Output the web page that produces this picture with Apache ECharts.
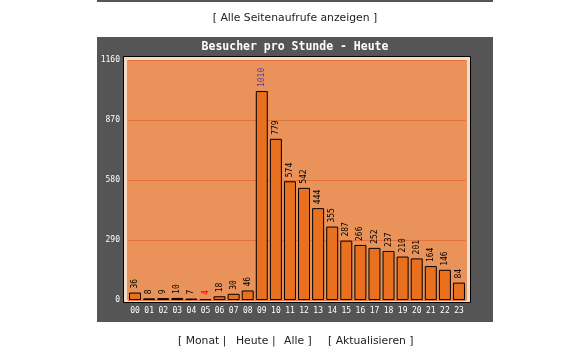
<!DOCTYPE html>
<html>
<head>
<meta charset="utf-8">
<script src="https://cdn.jsdelivr.net/npm/echarts@6/dist/echarts.min.js"></script>
<style>
  html, body { margin: 0; padding: 0; background: #fff; }
  #main { width: 580px; height: 352px; }
</style>
</head>
<body>
<div id="main"></div>
<script>
const hours = ["00", "01", "02", "03", "04", "05", "06", "07", "08", "09", "10", "11",
  "12", "13", "14", "15", "16", "17", "18", "19", "20", "21", "22", "23"];
const visitors = [36, 8, 9, 10, 7, 4, 18, 30, 46, 1010, 779, 574,
  542, 444, 355, 287, 266, 252, 237, 210, 201, 164, 146, 84];
const yTicks = { min: 0, max: 1160, interval: 290 };

const maxVal = Math.max(...visitors);
const minVal = Math.min(...visitors);

const barData = visitors.map((v) => {
  if (v === maxVal) return { value: v, label: { color: "#4b3aa8" } };
  if (v === minVal) return { value: v, label: { color: "#ff0000" } };
  return v;
});

const mono = "DejaVu Sans Mono";
const sans = "10.8px 'DejaVu Sans'";

const option = {
  backgroundColor: "#ffffff",
  animation: false,
  graphic: [
    { type: "rect", z: -10, shape: { x: 97, y: 0, width: 396, height: 2 }, style: { fill: "#555555" } },
    { type: "rect", z: -10, shape: { x: 97, y: 37, width: 396, height: 285 }, style: { fill: "#555555" } },
    { type: "rect", z: -9, shape: { x: 123.5, y: 56.5, width: 347, height: 246 },
      style: { fill: "#f6dcc6", stroke: "#000000", lineWidth: 1 } },
    { type: "rect", z: -8, shape: { x: 127, y: 60, width: 340, height: 240 }, style: { fill: "#e9935a" } },
    { type: "text", style: { text: "Besucher pro Stunde - Heute", x: 295, y: 47, textAlign: "center",
      textVerticalAlign: "middle", fill: "#ffffff", font: "bold 11.5px " + mono } },
    { type: "text", style: { text: "[ Alle Seitenaufrufe anzeigen ]", x: 295, y: 18, textAlign: "center",
      textVerticalAlign: "middle", fill: "#222222", font: sans } },
    { type: "text", style: { text: "[ Monat |", x: 178, y: 341, textVerticalAlign: "middle", fill: "#222222", font: sans } },
    { type: "text", style: { text: "Heute |", x: 236, y: 341, textVerticalAlign: "middle", fill: "#222222", font: sans } },
    { type: "text", style: { text: "Alle ]", x: 284, y: 341, textVerticalAlign: "middle", fill: "#222222", font: sans } },
    { type: "text", style: { text: "[ Aktualisieren ]", x: 328, y: 341, textVerticalAlign: "middle", fill: "#222222", font: sans } }
  ],
  grid: { left: 128, right: 114, top: 60, bottom: 52 },
  xAxis: {
    type: "category",
    data: hours,
    axisLine: { show: false },
    axisTick: { show: false },
    axisLabel: { color: "#ffffff", fontFamily: mono, fontSize: 8, margin: 7, interval: 0 }
  },
  yAxis: {
    type: "value",
    min: yTicks.min,
    max: yTicks.max,
    interval: yTicks.interval,
    axisLine: { show: false },
    axisTick: { show: false },
    axisLabel: { color: "#ffffff", fontFamily: mono, fontSize: 8, margin: 8, formatter: (v) => String(v) },
    splitLine: { show: true, lineStyle: { color: "#e3733a", width: 1 } }
  },
  series: [
    {
      type: "bar",
      data: barData,
      barWidth: 12,
      itemStyle: { color: "#e8701e", borderColor: "#000000", borderWidth: 1 },
      label: {
        show: true,
        position: "top",
        rotate: 90,
        align: "left",
        verticalAlign: "middle",
        distance: 4,
        color: "#000000",
        fontFamily: mono,
        fontSize: 8
      }
    }
  ]
};

const myChart = echarts.init(document.getElementById("main"));
myChart.setOption(option);
</script>
</body>
</html>
